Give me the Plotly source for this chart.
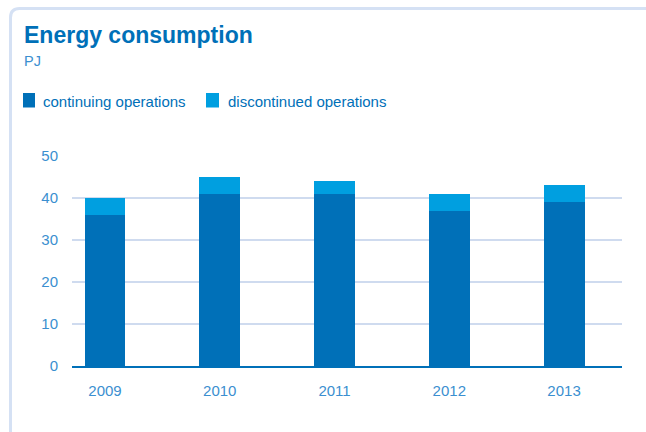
import plotly.graph_objects as go

# Energy consumption per year, PJ
years = ["2009", "2010", "2011", "2012", "2013"]
continuing = [36, 41, 41, 37, 39]
discontinued = [4, 4, 3, 4, 4]
y_ticks = [0, 10, 20, 30, 40, 50]

DARK = "#0070b8"
LIGHT = "#009fe0"
TICK = "#3b8fd0"
GRID = "#cfdbef"
FONT = "Liberation Sans, Arial, Helvetica, sans-serif"

W, H = 646, 432
L, R, T, B = 72, 24, 156, 66
PW, PH = W - L - R, H - T - B


def px(x):
    return (x - L) / PW


def py(y):
    return (H - B - y) / PH


xpos = list(range(len(years)))

fig = go.Figure()
fig.add_trace(go.Bar(x=xpos, y=continuing, name="continuing operations",
                     marker=dict(color=DARK, line=dict(width=0)), width=0.357))
fig.add_trace(go.Bar(x=xpos, y=discontinued, name="discontinued operations",
                     marker=dict(color=LIGHT, line=dict(width=0)), width=0.357))

shapes = []
# card outline with rounded top-left corner
r = 9
x0, y0 = px(10.5), py(8.5)
x1, y1 = px(660), py(440)
shapes.append(dict(
    type="path", xref="paper", yref="paper",
    path=(f"M {x0} {y1} L {x0} {py(8.5 + r)} "
          f"Q {x0} {y0} {px(10.5 + r)} {y0} L {x1} {y0}"),
    line=dict(color="#d5e1f4", width=3), layer="below"))

# legend swatches
for (a, b), color in [((23, 35), DARK), ((206, 219), LIGHT)]:
    shapes.append(dict(type="rect", xref="paper", yref="paper",
                       x0=px(a), x1=px(b), y0=py(107.5), y1=py(93),
                       fillcolor=color, line=dict(width=0)))

annotations = [
    dict(text="<b>Energy consumption</b>", x=px(22), y=py(35), xref="paper", yref="paper",
         xanchor="left", yanchor="middle", showarrow=False,
         font=dict(family=FONT, size=23, color=DARK)),
    dict(text="PJ", x=px(22), y=py(60.5), xref="paper", yref="paper",
         xanchor="left", yanchor="middle", showarrow=False,
         font=dict(family=FONT, size=14.5, color=TICK)),
    dict(text="continuing operations", x=px(41), y=py(101.5), xref="paper", yref="paper",
         xanchor="left", yanchor="middle", showarrow=False,
         font=dict(family=FONT, size=15, color=DARK)),
    dict(text="discontinued operations", x=px(226), y=py(101.5), xref="paper", yref="paper",
         xanchor="left", yanchor="middle", showarrow=False,
         font=dict(family=FONT, size=15, color=DARK)),
]

fig.update_layout(
    width=W, height=H,
    margin=dict(l=L, r=R, t=T, b=B, pad=0),
    barmode="stack",
    showlegend=False,
    plot_bgcolor="white", paper_bgcolor="white",
    shapes=shapes, annotations=annotations,
    font=dict(family=FONT, size=15, color=TICK),
)
fig.update_xaxes(
    range=[-0.2876, 4.505], tickvals=xpos, ticktext=years,
    showgrid=False, zeroline=False,
    showline=True, linecolor=DARK, linewidth=2,
    ticks="", ticklabelstandoff=10,
    tickfont=dict(family=FONT, size=15, color=TICK),
)
fig.update_yaxes(
    range=[0, 50], tickvals=y_ticks,
    showgrid=True, gridcolor=GRID, gridwidth=2,
    zeroline=False, showline=False, ticks="", ticklabelstandoff=13,
    tickfont=dict(family=FONT, size=15, color=TICK),
)

fig.write_html("out.html")
